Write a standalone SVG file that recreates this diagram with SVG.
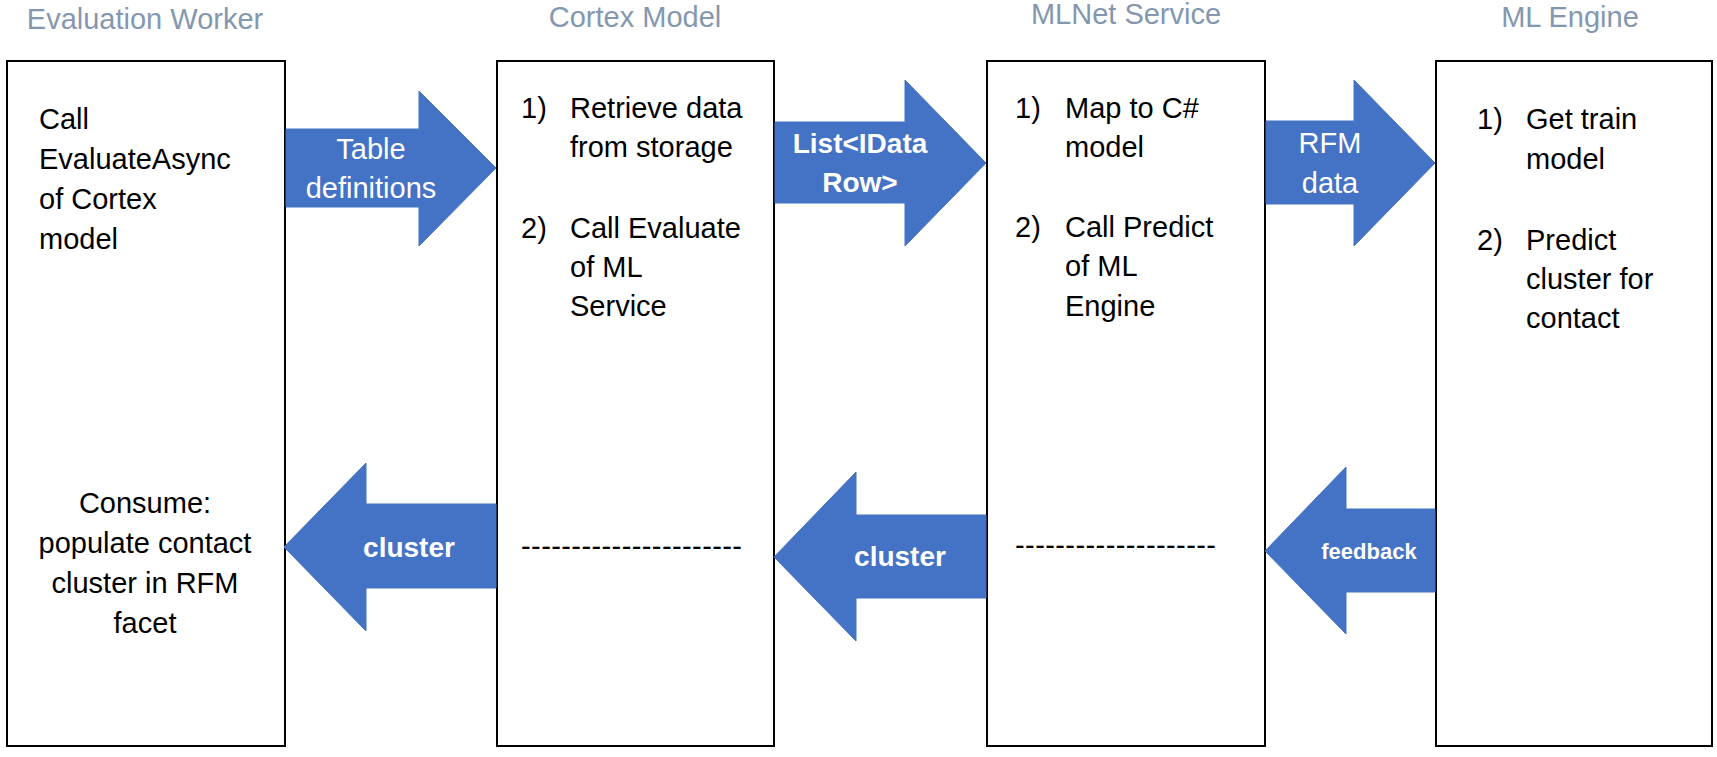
<svg xmlns="http://www.w3.org/2000/svg" width="1717" height="757" viewBox="0 0 1717 757">
<style>
.box{fill:#fff;stroke:#000;stroke-width:2}
.hdr{font-family:"Liberation Sans",Arial,sans-serif;font-size:29px;fill:#8497B0;text-anchor:middle}
.t{font-family:"Liberation Sans",Arial,sans-serif;font-size:29px;fill:#000}
.c{text-anchor:middle}
.arr{fill:#4472C4;stroke:#4472C4;stroke-width:1}
.al{font-family:"Liberation Sans",Arial,sans-serif;font-size:29px;fill:#fff;text-anchor:middle}
.ab{font-family:"Liberation Sans",Arial,sans-serif;font-size:28px;font-weight:bold;fill:#fff;text-anchor:middle}
</style>
<rect width="1717" height="757" fill="#fff"/>
<g id="evaluation-worker">
<text class="hdr" x="145" y="29">Evaluation Worker</text>
<rect class="box" x="7" y="61" width="278" height="685"/>
<text class="t" x="39" y="129">Call</text>
<text class="t" x="39" y="169">EvaluateAsync</text>
<text class="t" x="39" y="209">of Cortex</text>
<text class="t" x="39" y="249">model</text>
<text class="t c" x="145" y="513">Consume:</text>
<text class="t c" x="145" y="553">populate contact</text>
<text class="t c" x="145" y="593">cluster in RFM</text>
<text class="t c" x="145" y="633">facet</text>
</g>
<g id="cortex-model">
<text class="hdr" x="635" y="27">Cortex Model</text>
<rect class="box" x="497" y="61" width="277" height="685"/>
<text class="t" x="521" y="118">1)</text>
<text class="t" x="570" y="118">Retrieve data</text>
<text class="t" x="570" y="157">from storage</text>
<text class="t" x="521" y="238">2)</text>
<text class="t" x="570" y="238">Call Evaluate</text>
<text class="t" x="570" y="277">of ML</text>
<text class="t" x="570" y="316">Service</text>
<text class="t" x="521" y="556" textLength="221" lengthAdjust="spacing">----------------------</text>
</g>
<g id="mlnet-service">
<text class="hdr" x="1126" y="24">MLNet Service</text>
<rect class="box" x="987" y="61" width="278" height="685"/>
<text class="t" x="1015" y="118">1)</text>
<text class="t" x="1065" y="118">Map to C#</text>
<text class="t" x="1065" y="157">model</text>
<text class="t" x="1015" y="237">2)</text>
<text class="t" x="1065" y="237">Call Predict</text>
<text class="t" x="1065" y="276">of ML</text>
<text class="t" x="1065" y="316">Engine</text>
<text class="t" x="1015" y="555" textLength="201" lengthAdjust="spacing">--------------------</text>
</g>
<g id="ml-engine">
<text class="hdr" x="1570" y="27">ML Engine</text>
<rect class="box" x="1436" y="61" width="276" height="685"/>
<text class="t" x="1477" y="129">1)</text>
<text class="t" x="1526" y="129">Get train</text>
<text class="t" x="1526" y="169">model</text>
<text class="t" x="1477" y="250">2)</text>
<text class="t" x="1526" y="250">Predict</text>
<text class="t" x="1526" y="289">cluster for</text>
<text class="t" x="1526" y="328">contact</text>
</g>
<g id="connectors">
<path class="arr" d="M286,129 L419,129 L419,91 L496,168 L419,246 L419,207 L286,207 Z"/>
<text class="al" x="371" y="159">Table</text>
<text class="al" x="371" y="198">definitions</text>
<path class="arr" d="M775,122 L905,122 L905,80 L986,163 L905,246 L905,203 L775,203 Z"/>
<text class="ab" x="860" y="153">List&lt;IData</text>
<text class="ab" x="860" y="192">Row&gt;</text>
<path class="arr" d="M1266,121 L1354,121 L1354,80 L1435,163 L1354,246 L1354,204 L1266,204 Z"/>
<text class="al" x="1330" y="153">RFM</text>
<text class="al" x="1330" y="193">data</text>
<path class="arr" d="M496,504 L366,504 L366,463 L284,547 L366,631 L366,588 L496,588 Z"/>
<text class="ab" x="409" y="557">cluster</text>
<path class="arr" d="M986,515 L856,515 L856,472 L774,557 L856,641 L856,598 L986,598 Z"/>
<text class="ab" x="900" y="566">cluster</text>
<path class="arr" d="M1435,509 L1346,509 L1346,467 L1265,551 L1346,634 L1346,592 L1435,592 Z"/>
<text class="ab" x="1369" y="559" style="font-size:22px">feedback</text>
</g>
</svg>
